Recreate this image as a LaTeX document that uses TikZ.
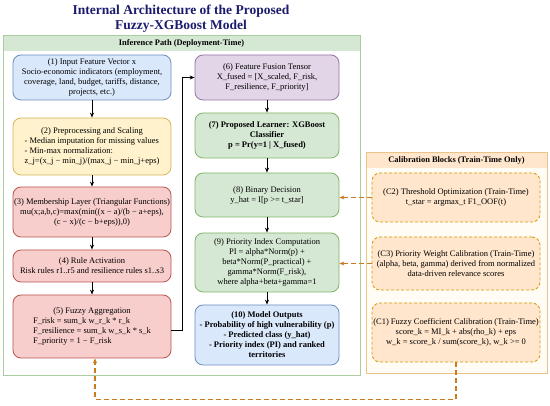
\documentclass[tikz,border=0pt]{standalone}
\usepackage{fontspec}
\setmainfont{Liberation Serif}
\usetikzlibrary{arrows.meta}

\definecolor{titleblue}{RGB}{28,28,110}
\definecolor{bluefill}{HTML}{DAE8FC}
\definecolor{blueline}{HTML}{6C8EBF}
\definecolor{yellowfill}{HTML}{FFF2CC}
\definecolor{yellowline}{HTML}{D6B656}
\definecolor{redfill}{HTML}{F8CECC}
\definecolor{redline}{HTML}{B85450}
\definecolor{purplefill}{HTML}{E1D5E7}
\definecolor{purpleline}{HTML}{9673A6}
\definecolor{greenfill}{HTML}{D5E8D4}
\definecolor{greenline}{HTML}{82B366}
\definecolor{orangefill}{HTML}{FFE6CC}
\definecolor{orangeline}{HTML}{D79B00}
\definecolor{calline}{RGB}{204,122,30}
\definecolor{panelgreen}{RGB}{170,205,160}
\definecolor{panelorange}{RGB}{235,195,135}
\definecolor{calpanel}{RGB}{255,252,246}

\newcommand{\boxfont}{\fontsize{8.5}{10}\selectfont}

\begin{document}
\begin{tikzpicture}[x=1pt, y=-1pt, >={Stealth[length=5pt,width=4pt]},
  box/.style={draw, line width=0.8pt, rounded corners=8pt, align=center, inner sep=1pt, font=\boxfont},
  leftbox/.style={box, minimum width=158pt},
  midbox/.style={box, minimum width=144pt},
  calbox/.style={box, minimum width=168pt, dashed, dash pattern=on 3pt off 2pt, draw=orangeline, fill=orangefill},
  flow/.style={->, line width=0.9pt},
  calflow/.style={->, line width=1.2pt, draw=calline, dash pattern=on 5pt off 3pt},
  headtext/.style={font=\bfseries\fontsize{8.4}{10}\selectfont}]

\useasboundingbox (0,0) rectangle (550,406);

% Title
\node[font=\bfseries\fontsize{13.5}{15}\selectfont, text=titleblue, align=center] (title) at (181,19)
  {Internal Architecture of the Proposed\\Fuzzy-XGBoost Model};

% Panels
\fill[white] (3,35) rectangle (360,375);
\fill[greenfill] (3,35) rectangle (360,51);
\draw[panelgreen, line width=0.8pt] (3,35) rectangle (360,375);
\node[headtext] (infhead) at (181.5,43) {Inference Path (Deployment-Time)};

\fill[calpanel] (366,152) rectangle (547,373);
\fill[orangefill] (366,152) rectangle (547,168);
\draw[panelorange, line width=0.8pt] (366,152) rectangle (547,373);
\node[headtext] (calhead) at (456.5,160.5) {Calibration Blocks (Train-Time Only)};

% Left column
\node[leftbox, fill=bluefill, draw=blueline, minimum height=45pt] (inp) at (92,77.5)
  {(1) Input Feature Vector x\\Socio-economic indicators (employment,\\coverage, land, budget, tariffs, distance,\\projects, etc.)};
\node[leftbox, fill=yellowfill, draw=yellowline, minimum height=57pt] (prep) at (92,146.5)
  {\begin{tabular}{@{}l@{}}\multicolumn{1}{@{}c@{}}{(2) Preprocessing and Scaling}\\
   - Median imputation for missing values\\- Min-max normalization:\\
   z\_j=(x\_j − min\_j)/(max\_j − min\_j+eps)\end{tabular}};
\node[leftbox, fill=redfill, draw=redline, minimum height=50pt] (memb) at (92,212)
  {(3) Membership Layer (Triangular Functions)\\mu(x;a,b,c)=max(min((x − a)/(b − a+eps),\\(c − x)/(c − b+eps)),0)};
\node[leftbox, fill=redfill, draw=redline, minimum height=32pt] (rule) at (92,266)
  {(4) Rule Activation\\Risk rules r1..r5 and resilience rules s1..s3};
\node[leftbox, fill=redfill, draw=redline, minimum height=63pt] (agg) at (92,326.5)
  {\begin{tabular}{@{}l@{}}\multicolumn{1}{@{}c@{}}{(5) Fuzzy Aggregation}\\
   F\_risk = sum\_k w\_r\_k * r\_k\\F\_resilience = sum\_k w\_s\_k * s\_k\\
   F\_priority = 1 − F\_risk\end{tabular}};

% Middle column
\node[midbox, fill=purplefill, draw=purpleline, minimum height=45pt] (fus) at (267,77.5)
  {(6) Feature Fusion Tensor\\X\_fused = [X\_scaled, F\_risk,\\F\_resilience, F\_priority]};
\node[midbox, fill=greenfill, draw=greenline, minimum height=45pt, font=\bfseries\boxfont] (learn) at (267,135.5)
  {(7) Proposed Learner: XGBoost\\Classifier\\p = Pr(y=1 | X\_fused)};
\node[midbox, fill=greenfill, draw=greenline, minimum height=44pt] (dec) at (267,195)
  {(8) Binary Decision\\y\_hat = I[p >= t\_star]};
\node[midbox, fill=greenfill, draw=greenline, minimum height=59pt] (prio) at (267,262.5)
  {(9) Priority Index Computation\\PI = alpha*Norm(p) +\\beta*Norm(P\_practical) +\\gamma*Norm(F\_risk),\\where alpha+beta+gamma=1};
\node[midbox, fill=bluefill, draw=blueline, minimum height=60pt, font=\bfseries\boxfont] (outp) at (267,335)
  {(10) Model Outputs\\- Probability of high vulnerability (p)\\- Predicted class (y\_hat)\\- Priority index (PI) and ranked\\territories};

% Calibration blocks
\node[calbox, minimum height=49pt] (thr) at (456,197.5)
  {(C2) Threshold Optimization (Train-Time)\\t\_star = argmax\_t F1\_OOF(t)};
\node[calbox, minimum height=53pt] (wts) at (456,263.5)
  {(C3) Priority Weight Calibration (Train-Time)\\(alpha, beta, gamma) derived from normalized\\data-driven relevance scores};
\node[calbox, minimum height=59pt] (coef) at (456,332.5)
  {(C1) Fuzzy Coefficient Calibration (Train-Time)\\score\_k = MI\_k + abs(rho\_k) + eps\\w\_k = score\_k / sum(score\_k), w\_k >= 0};

% Inference flow
\draw[flow] (inp) -- (prep);
\draw[flow] (prep) -- (memb);
\draw[flow] (memb) -- (rule);
\draw[flow] (rule) -- (agg);
\draw[flow] ([yshift=-3.5pt]agg.east) -- ++(11,0) |- (fus.west);
\draw[flow] (fus) -- (learn);
\draw[flow] (learn) -- (dec);
\draw[flow] (dec) -- (prio);
\draw[flow] (prio) -- (outp);

% Calibration links
\draw[calflow] (thr.west) -- (thr.west -| dec.east);
\draw[calflow] (wts.west) -- (wts.west -| prio.east);
\draw[calflow] (coef.south) -- ++(0,37) -| ([xshift=3pt]agg.south);

\end{tikzpicture}
\end{document}
